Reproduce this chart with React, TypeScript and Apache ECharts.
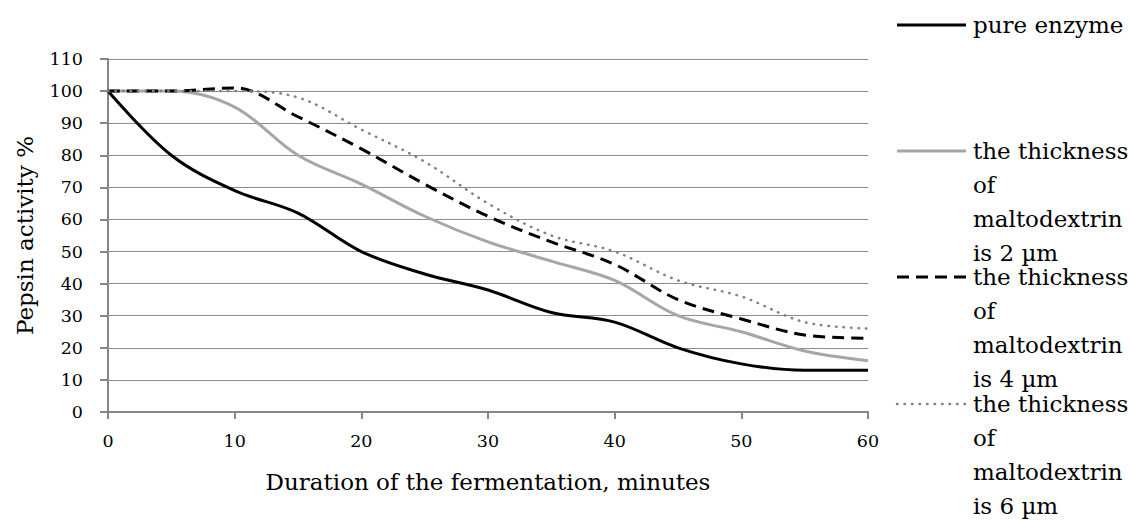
import React, { useEffect, useRef } from "react";
import * as echarts from "echarts";

const minutes = [0, 5, 10, 15, 20, 25, 30, 35, 40, 45, 50, 55, 60];
const pureEnzyme = [100, 80, 69, 62, 50, 43, 38, 31, 28, 20, 15, 13, 13];
const thick2 = [100, 100, 95, 80, 71, 61, 53, 47, 41, 30, 25, 19, 16];
const thick4 = [100, 100, 101, 92, 82, 71, 61, 53, 46, 35, 29, 24, 23];
const thick6 = [100, 100, 100, 98, 88, 78, 65, 55, 50, 41, 36, 28, 26];

const seriesNames = [
  "pure enzyme",
  "the thickness of maltodextrin is 2 µm",
  "the thickness of maltodextrin is 4 µm",
  "the thickness of maltodextrin is 6 µm",
];
const legendTexts = [
  "pure enzyme",
  "the thickness\nof\nmaltodextrin\nis 2 µm",
  "the thickness\nof\nmaltodextrin\nis 4 µm",
  "the thickness\nof\nmaltodextrin\nis 6 µm",
];
const seriesValues = [pureEnzyme, thick2, thick4, thick6];

const FONT = '"DejaVu Serif", serif';

const lineStyles = [
  { color: "#000000", width: 3, type: "solid" as any, cap: "butt" },
  { color: "#a6a6a6", width: 3, type: "solid" as any, cap: "butt" },
  { color: "#000000", width: 3, type: [12, 7] as any, cap: "butt" },
  { color: "#808080", width: 2.5, type: [0.5, 7] as any, cap: "round" },
];

export default function App() {
  const ref = useRef<HTMLDivElement>(null);
  useEffect(() => {
    const chart = echarts.init(ref.current!, null, { renderer: "svg" });
    const legendY = [25, 151, 277, 404];
    const graphic: any[] = [];
    lineStyles.forEach((ls, i) => {
      graphic.push({
        type: "line",
        shape: { x1: 897, y1: legendY[i], x2: 966, y2: legendY[i] },
        style: {
          stroke: ls.color,
          lineWidth: ls.width,
          lineDash: Array.isArray(ls.type) ? ls.type : null,
          lineCap: ls.cap,
        },
      });
      graphic.push({
        type: "text",
        x: 973,
        y: legendY[i] - 17,
        style: {
          text: legendTexts[i],
          fontFamily: FONT,
          fontSize: 23,
          lineHeight: 34,
          fill: "#000000",
          verticalAlign: "top",
          align: "left",
        },
      });
    });
    chart.setOption({
      animation: false,
      backgroundColor: "#ffffff",
      textStyle: { fontFamily: FONT },
      grid: { left: 108, right: 261, top: 59, bottom: 108, containLabel: false },
      xAxis: {
        type: "value",
        min: 0,
        max: 60,
        interval: 10,
        name: "Duration of the fermentation, minutes",
        nameLocation: "middle",
        nameGap: 58,
        nameTextStyle: { fontFamily: FONT, fontSize: 23, color: "#000" },
        axisLine: { show: true, lineStyle: { color: "#868686", width: 2 } },
        axisTick: { show: true, length: 7, lineStyle: { color: "#868686", width: 2 } },
        axisLabel: { margin: 20, fontFamily: FONT, fontSize: 17.5, color: "#000" },
        splitLine: { show: false },
      },
      yAxis: {
        type: "value",
        min: 0,
        max: 110,
        interval: 10,
        name: "Pepsin activity %",
        nameLocation: "middle",
        nameRotate: 90,
        nameGap: 72,
        nameTextStyle: { fontFamily: FONT, fontSize: 23, color: "#000" },
        axisLine: { show: true, lineStyle: { color: "#868686", width: 2 } },
        axisTick: { show: true, length: 8, lineStyle: { color: "#868686", width: 2 } },
        axisLabel: { margin: 25, fontFamily: FONT, fontSize: 17.5, color: "#000" },
        splitLine: { show: true, lineStyle: { color: "#8c8c8c", width: 1 } },
      },
      series: seriesValues.map((vals, i) => ({
        name: seriesNames[i],
        type: "line",
        smooth: 0.35,
        symbol: "none",
        data: minutes.map((m, j) => [m, vals[j]]),
        lineStyle: {
          color: lineStyles[i].color,
          width: lineStyles[i].width,
          type: lineStyles[i].type,
          cap: lineStyles[i].cap,
        },
        itemStyle: { color: lineStyles[i].color },
      })),
      graphic,
    });
    return () => chart.dispose();
  }, []);
  return (
    <div
      ref={ref}
      style={{ position: "absolute", left: 0, top: 0, width: 1129, height: 520 }}
    />
  );
}
